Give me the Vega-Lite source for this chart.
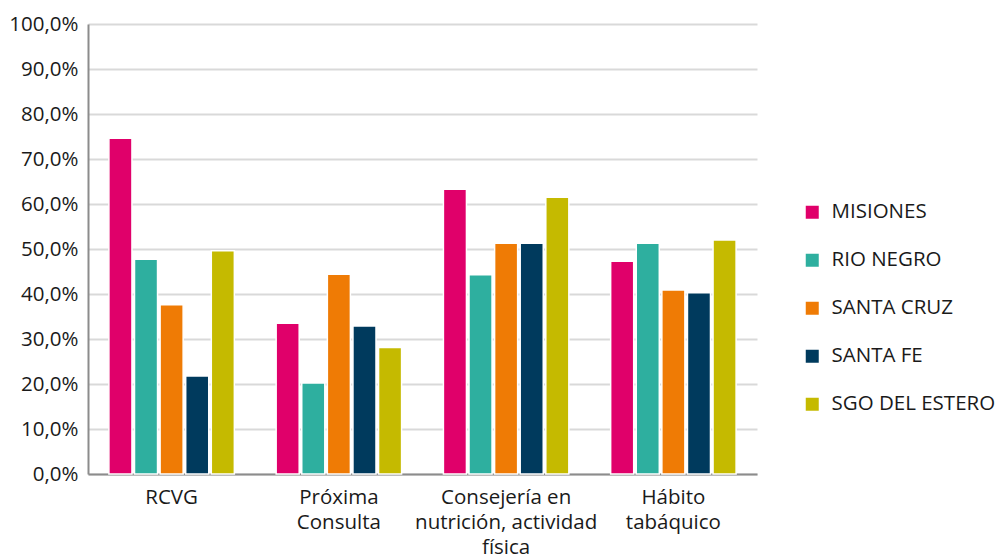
{
  "$schema": "https://vega.github.io/schema/vega-lite/v6.json",
  "autosize": "none",
  "width": 669,
  "height": 450,
  "padding": {"left": 88, "top": 24, "right": 244, "bottom": 84},
  "config": {
    "font": "Open Sans",
    "view": {"stroke": null},
    "locale": {"number": {"decimal": ",", "thousands": ".", "grouping": [3], "currency": ["$", ""]}}
  },
  "data": {
    "values": [
      {"cat": "RCVG", "prov": "MISIONES", "v": 0.746},
      {"cat": "RCVG", "prov": "RIO NEGRO", "v": 0.477},
      {"cat": "RCVG", "prov": "SANTA CRUZ", "v": 0.376},
      {"cat": "RCVG", "prov": "SANTA FE", "v": 0.218},
      {"cat": "RCVG", "prov": "SGO DEL ESTERO", "v": 0.496},
      {"cat": "Próxima Consulta", "prov": "MISIONES", "v": 0.335},
      {"cat": "Próxima Consulta", "prov": "RIO NEGRO", "v": 0.202},
      {"cat": "Próxima Consulta", "prov": "SANTA CRUZ", "v": 0.444},
      {"cat": "Próxima Consulta", "prov": "SANTA FE", "v": 0.329},
      {"cat": "Próxima Consulta", "prov": "SGO DEL ESTERO", "v": 0.281},
      {"cat": "Consejería en nutrición, actividad física", "prov": "MISIONES", "v": 0.633},
      {"cat": "Consejería en nutrición, actividad física", "prov": "RIO NEGRO", "v": 0.443},
      {"cat": "Consejería en nutrición, actividad física", "prov": "SANTA CRUZ", "v": 0.513},
      {"cat": "Consejería en nutrición, actividad física", "prov": "SANTA FE", "v": 0.513},
      {"cat": "Consejería en nutrición, actividad física", "prov": "SGO DEL ESTERO", "v": 0.615},
      {"cat": "Hábito tabáquico", "prov": "MISIONES", "v": 0.473},
      {"cat": "Hábito tabáquico", "prov": "RIO NEGRO", "v": 0.513},
      {"cat": "Hábito tabáquico", "prov": "SANTA CRUZ", "v": 0.409},
      {"cat": "Hábito tabáquico", "prov": "SANTA FE", "v": 0.403},
      {"cat": "Hábito tabáquico", "prov": "SGO DEL ESTERO", "v": 0.520}
    ]
  },
  "mark": {"type": "bar", "stroke": "white", "strokeWidth": 1.5},
  "encoding": {
    "x": {
      "field": "cat", "type": "nominal", "sort": null, "title": null,
      "scale": {"paddingInner": 0.25, "paddingOuter": 0.125},
      "axis": {
        "labelAngle": 0, "labelFontSize": 20.5, "labelColor": "#1a1a1a", "labelLineHeight": 25,
        "labelPadding": 13, "labelLimit": 400, "labelOverlap": false, "ticks": false, "domainColor": "#8c8c8c", "domainWidth": 2,
        "labelExpr": "datum.value == 'Próxima Consulta' ? ['Próxima', 'Consulta'] : datum.value == 'Hábito tabáquico' ? ['Hábito', 'tabáquico'] : datum.value == 'RCVG' ? 'RCVG' : ['Consejería en', 'nutrición, actividad', 'física']"
      }
    },
    "xOffset": {"field": "prov", "type": "nominal", "scale": {"paddingInner": 0.1}},
    "y": {
      "field": "v", "type": "quantitative", "title": null,
      "scale": {"domain": [0, 1]},
      "axis": {
        "format": ".1%", "values": [0, 0.1, 0.2, 0.3, 0.4, 0.5, 0.6, 0.7, 0.8, 0.9, 1],
        "labelOverlap": false,
        "labelFontSize": 20.5, "labelColor": "#1a1a1a", "labelPadding": 10, "ticks": false,
        "domainColor": "#8c8c8c", "domainWidth": 2, "gridColor": "#d9d9d9", "gridWidth": 2
      }
    },
    "color": {
      "field": "prov", "type": "nominal", "title": null,
      "scale": {
        "domain": ["MISIONES", "RIO NEGRO", "SANTA CRUZ", "SANTA FE", "SGO DEL ESTERO"],
        "range": ["#E0006A", "#2EAF9F", "#EF7B05", "#003A5D", "#C5BA00"]
      },
      "legend": {
        "orient": "none", "legendX": 714, "legendY": 178,
        "symbolType": "square", "symbolSize": 169, "symbolStrokeWidth": 0,
        "labelFontSize": 20.5, "labelLimit": 400, "labelColor": "#1a1a1a", "rowPadding": 27, "labelOffset": 9
      }
    }
  }
}
